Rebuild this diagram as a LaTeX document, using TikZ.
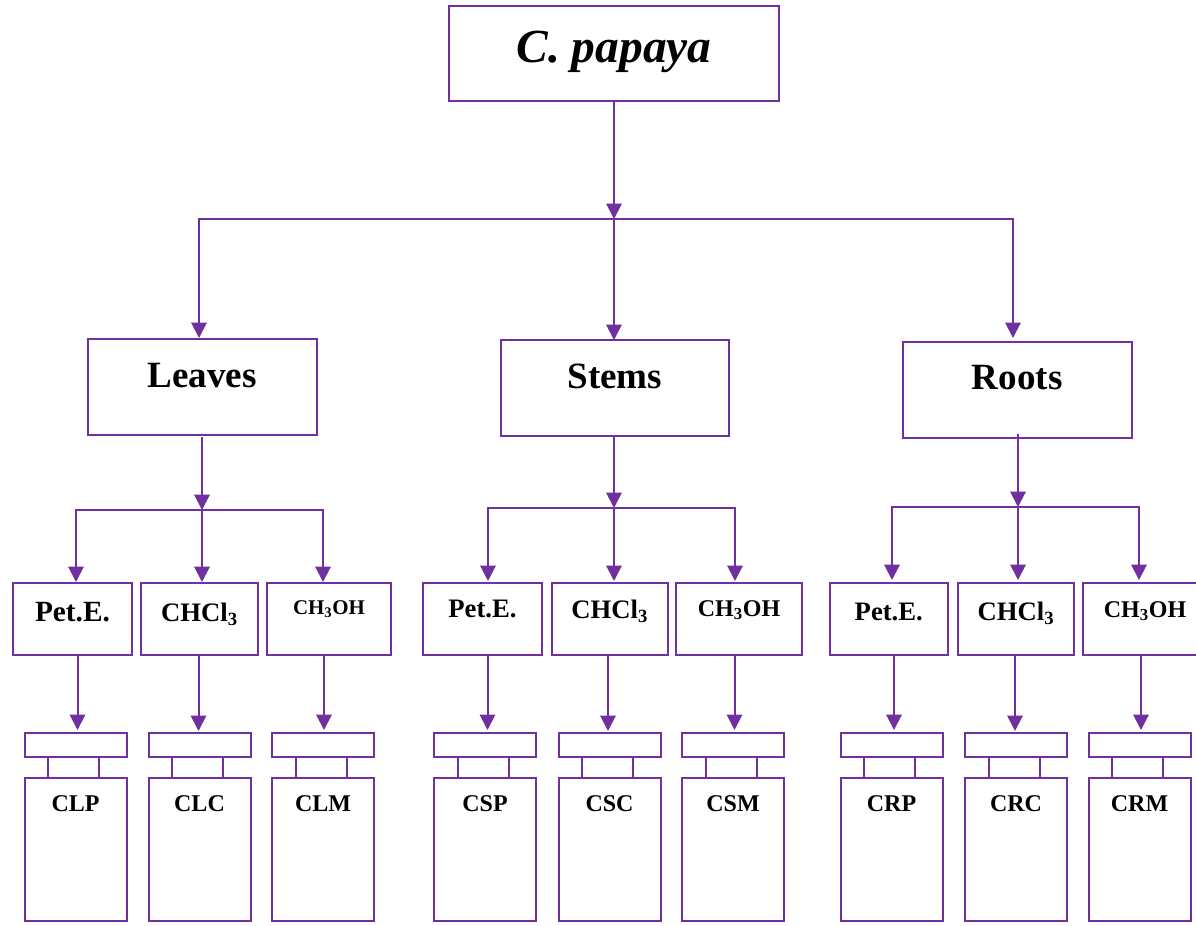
\documentclass[tikz,border=0pt]{standalone}
\usepackage{fontspec}
\setmainfont{Liberation Serif}
\usetikzlibrary{positioning, arrows.meta}
\definecolor{plantline}{HTML}{7030A0}
\tikzset{
	box/.style={draw=plantline, line width=1.5pt, inner sep=0pt, outer sep=0pt, anchor=north west, text=black},
	rootbox/.style={box, minimum width=247.5pt, text height=42pt, text depth=29.25pt, font=\fontsize{35.6}{36}\selectfont\bfseries\itshape},
	partbox/.style={box, minimum width=171.4pt, text height=36pt, text depth=36pt, font=\fontsize{27.8}{28}\selectfont\bfseries},
	solventbox/.style={box, text height=#1, text depth={54pt-#1}, font=\fontsize{20}{20}\selectfont\bfseries},
	vialpart/.style={draw=plantline, line width=1.5pt, inner sep=0pt, outer sep=0pt},
	viallid/.style={vialpart, minimum width=76.5pt, minimum height=18pt},
	vialneck/.style={vialpart, minimum width=38.25pt, minimum height=15.75pt, xshift=-1.5pt},
	vialbody/.style={vialpart, minimum width=76.5pt, text height=24.75pt, text depth=82.5pt, font=\fontsize{18}{18}\selectfont\bfseries},
	flow/.style={draw=plantline, line width=1.5pt, -{Triangle[width=11.5pt,length=11.5pt]}},
}
\begin{document}
\begin{tikzpicture}[x=0.75pt, y=-0.75pt]
	\path[use as bounding box] (0,0) rectangle (1196,925);

	\node[rootbox] (papaya) at (449,6) {C. papaya};

	\node[partbox] (leaves) at (88,339) {Leaves};
	\node[partbox] (stems) at (500.5,340) {Stems};
	\node[partbox, text height=35.25pt, text depth=36.75pt] (roots) at (903,342) {Roots};

	\node[solventbox=28.5pt, minimum width=89.25pt] (petl) at (13,583) {\fontsize{22}{22}\selectfont Pet.E.};
	\node[solventbox=28.5pt, minimum width=87.75pt] (chcl) at (141,583) {CHCl\textsubscript{3}};
	\node[solventbox=23.25pt, minimum width=93pt] (meol) at (267,583) {\fontsize{15.7}{16}\selectfont CH\textsubscript{3}OH};
	\node[solventbox=25.5pt, minimum width=89.25pt] (pets) at (423,583) {Pet.E.};
	\node[solventbox=26.25pt, minimum width=87.4pt] (chcs) at (551.5,583) {CHCl\textsubscript{3}};
	\node[solventbox=24.75pt, minimum width=94.5pt] (meos) at (676,583) {\fontsize{18}{18}\selectfont CH\textsubscript{3}OH};
	\node[solventbox=28pt, minimum width=88.9pt] (petr) at (829.5,583) {Pet.E.};
	\node[solventbox=28pt, minimum width=87pt] (chcr) at (958,583) {CHCl\textsubscript{3}};
	\node[solventbox=25.5pt, minimum width=93pt] (meor) at (1083,583) {\fontsize{18}{18}\selectfont CH\textsubscript{3}OH};

	\node[viallid] (clplid) at (75.5,745) {};
	\node[vialneck, below=0pt of clplid] (clpneck) {};
	\node[vialbody, below=15.75pt of clplid] (clp) {CLP};
	\node[viallid] (clclid) at (199.5,745) {};
	\node[vialneck, below=0pt of clclid] (clcneck) {};
	\node[vialbody, below=15.75pt of clclid] (clc) {CLC};
	\node[viallid] (clmlid) at (323,745) {};
	\node[vialneck, below=0pt of clmlid] (clmneck) {};
	\node[vialbody, below=15.75pt of clmlid] (clm) {CLM};
	\node[viallid] (csplid) at (485,745) {};
	\node[vialneck, below=0pt of csplid] (cspneck) {};
	\node[vialbody, below=15.75pt of csplid] (csp) {CSP};
	\node[viallid] (csclid) at (609.5,745) {};
	\node[vialneck, below=0pt of csclid] (cscneck) {};
	\node[vialbody, below=15.75pt of csclid] (csc) {CSC};
	\node[viallid] (csmlid) at (733,745) {};
	\node[vialneck, below=0pt of csmlid] (csmneck) {};
	\node[vialbody, below=15.75pt of csmlid] (csm) {CSM};
	\node[viallid] (crplid) at (891.5,745) {};
	\node[vialneck, below=0pt of crplid] (crpneck) {};
	\node[vialbody, below=15.75pt of crplid] (crp) {CRP};
	\node[viallid] (crclid) at (1016,745) {};
	\node[vialneck, below=0pt of crclid] (crcneck) {};
	\node[vialbody, below=15.75pt of crclid] (crc) {CRC};
	\node[viallid] (crmlid) at (1139.5,745) {};
	\node[vialneck, below=0pt of crmlid] (crmneck) {};
	\node[vialbody, below=15.75pt of crmlid] (crm) {CRM};

	\coordinate (split) at (614,219);
	\coordinate (splitl) at (202,510);
	\coordinate (splits) at (614,508);
	\coordinate (splitr) at (1018,507);
	\coordinate (outl) at (202,437);
	\coordinate (outr) at (1018,434);

	\draw[flow] (papaya.south) -- (split);
	\draw[flow] (split) -| (199,338);
	\draw[flow] (split) -- (split |- stems.north);
	\draw[flow] (split) -| (1013,338);

	\draw[flow] (outl) -- (splitl);
	\draw[flow] (splitl) -| (76,582);
	\draw[flow] (splitl) -- (202,582);
	\draw[flow] (splitl) -| (323,582);

	\draw[flow] (stems.south -| splits) -- (splits);
	\draw[flow] (splits) -| (488,581);
	\draw[flow] (splits) -- (614,581);
	\draw[flow] (splits) -| (735,581);

	\draw[flow] (outr) -- (splitr);
	\draw[flow] (splitr) -| (892,580);
	\draw[flow] (splitr) -- (1018,580);
	\draw[flow] (splitr) -| (1139,580);

	\coordinate (tipclp) at (77.5,730);
	\coordinate (tipclc) at (198.5,731);
	\coordinate (tipclm) at (324,730);
	\coordinate (tipcsp) at (487.5,730);
	\coordinate (tipcsc) at (608,731);
	\coordinate (tipcsm) at (734.5,730);
	\coordinate (tipcrp) at (894,730);
	\coordinate (tipcrc) at (1015,731);
	\coordinate (tipcrm) at (1141,730);

	\draw[flow] (petl.south -| tipclp) -- (tipclp);
	\draw[flow] (chcl.south -| tipclc) -- (tipclc);
	\draw[flow] (meol.south -| tipclm) -- (tipclm);
	\draw[flow] (pets.south -| tipcsp) -- (tipcsp);
	\draw[flow] (chcs.south -| tipcsc) -- (tipcsc);
	\draw[flow] (meos.south -| tipcsm) -- (tipcsm);
	\draw[flow] (petr.south -| tipcrp) -- (tipcrp);
	\draw[flow] (chcr.south -| tipcrc) -- (tipcrc);
	\draw[flow] (meor.south -| tipcrm) -- (tipcrm);
\end{tikzpicture}
\end{document}
